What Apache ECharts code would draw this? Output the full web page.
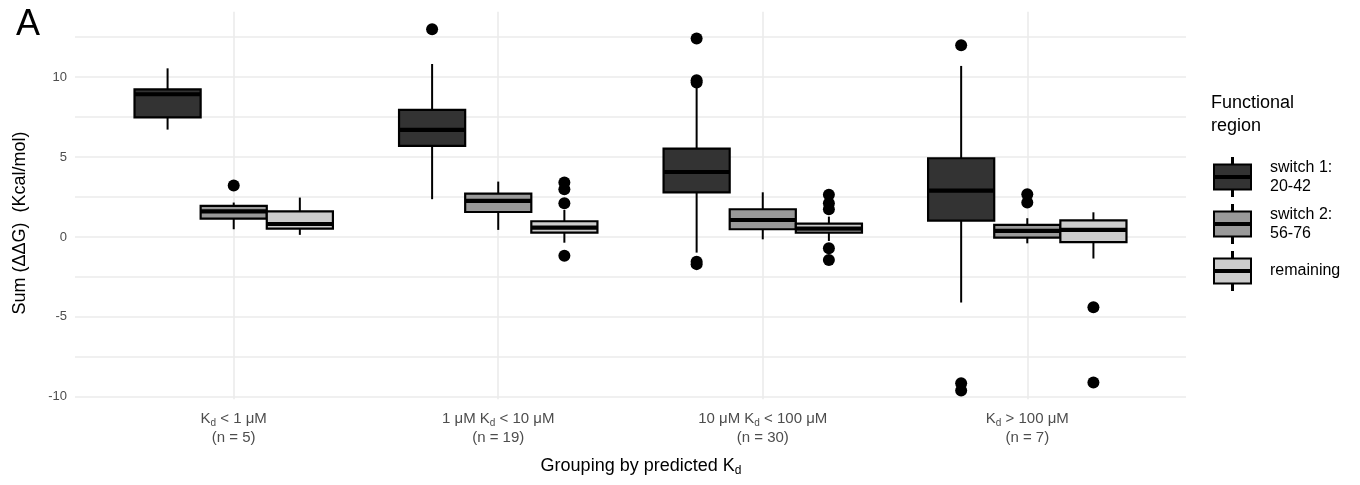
<!DOCTYPE html>
<html>
<head>
<meta charset="utf-8">
<script src="https://cdn.jsdelivr.net/npm/echarts@6/dist/echarts.min.js"></script>
<style>
html,body{margin:0;padding:0;background:#fff;}
#chart{width:1360px;height:485px;}
</style>
</head>
<body>
<div id="chart"></div>
<script>
// ---------- data ----------
const categories = ['K_d < 1 μM', '1 μM K_d < 10 μM', '10 μM K_d < 100 μM', 'K_d > 100 μM'];
const groupSizes = [5, 19, 30, 7];
const seriesNames = ['switch 1:\n20-42', 'switch 2:\n56-76', 'remaining'];
const yTickLabels = [-10, -5, 0, 5, 10];
const yGridValues = [-10, -7.5, -5, -2.5, 0, 2.5, 5, 7.5, 10, 12.5];

// box statistics per group: [min whisker, q1, median, q3, max whisker]
const switch1Boxes = [
  [6.71, 7.48, 8.92, 9.23, 10.54],
  [2.36, 5.69, 6.69, 7.94, 10.81],
  [-0.98, 2.79, 4.06, 5.52, 9.55],
  [-4.10, 1.02, 2.90, 4.92, 10.69]
];
const switch2Boxes = [
  [0.48, 1.14, 1.60, 1.94, 2.15],
  [0.44, 1.56, 2.25, 2.71, 3.46],
  [-0.15, 0.48, 1.06, 1.73, 2.79],
  [-0.40, -0.04, 0.38, 0.75, 1.17]
];
const remainingBoxes = [
  [0.13, 0.52, 0.81, 1.60, 2.46],
  [-0.36, 0.27, 0.58, 0.98, 1.69],
  [-0.25, 0.27, 0.52, 0.83, 1.27],
  [-1.35, -0.33, 0.44, 1.04, 1.54]
];
// outliers per group
const switch1Outliers = [[], [12.98], [12.4, 9.8, 9.65, -1.55, -1.7], [11.98, -9.15, -9.6]];
const switch2Outliers = [[3.21], [], [], [2.67, 2.15]];
const remainingOutliers = [[], [3.4, 2.98, 2.1, -1.17], [2.63, 2.1, 1.73, -0.71, -1.44], [-4.4, -9.1]];

// ---------- styling ----------
const fills = ['#333333', '#999999', '#cccccc'];
const DODGE = 0.25;   // offset between dodged boxes (axis units)
const BOX_W = 0.25;   // box width (axis units)
const FONT = "'Liberation Sans', Arial, Helvetica, sans-serif";

const allBoxes = [switch1Boxes, switch2Boxes, remainingBoxes];
const allOutliers = [switch1Outliers, switch2Outliers, remainingOutliers];

function renderBox(params, api) {
  const k = params.seriesIndex; // 0..2 are the box series
  const x = api.value(0) + (k - 1) * DODGE;
  const pMin = api.coord([x, api.value(1)]);
  const pQ1 = api.coord([x, api.value(2)]);
  const pMed = api.coord([x, api.value(3)]);
  const pQ3 = api.coord([x, api.value(4)]);
  const pMax = api.coord([x, api.value(5)]);
  const hw = api.size([BOX_W, 0])[0] / 2;
  return {
    type: 'group',
    children: [
      {type: 'line', shape: {x1: pMin[0], y1: pMin[1], x2: pQ1[0], y2: pQ1[1]}, style: {stroke: '#000', lineWidth: 2}},
      {type: 'line', shape: {x1: pQ3[0], y1: pQ3[1], x2: pMax[0], y2: pMax[1]}, style: {stroke: '#000', lineWidth: 2}},
      {type: 'rect', shape: {x: pQ3[0] - hw, y: pQ3[1], width: hw * 2, height: pQ1[1] - pQ3[1]},
        style: {fill: fills[k], stroke: '#000', lineWidth: 2.2}},
      {type: 'line', shape: {x1: pMed[0] - hw, y1: pMed[1], x2: pMed[0] + hw, y2: pMed[1]}, style: {stroke: '#000', lineWidth: 4.2}}
    ]
  };
}

const boxSeries = allBoxes.map((boxes, k) => ({
  name: seriesNames[k],
  type: 'custom',
  renderItem: renderBox,
  encode: {x: 0, y: [1, 2, 3, 4, 5]},
  data: boxes.map((b, gi) => [gi + 1].concat(b)),
  z: 2
}));

const outlierSeries = allOutliers.map((groups, k) => {
  const pts = [];
  groups.forEach((vals, gi) => vals.forEach(v => pts.push([gi + 1 + (k - 1) * DODGE, v])));
  return {
    name: 'outliers ' + k,
    type: 'scatter',
    data: pts,
    symbol: 'circle',
    symbolSize: 12,
    itemStyle: {color: '#000', opacity: 1},
    z: 3
  };
});

function richCat(str) {
  const parts = str.split('_d');
  let out = '';
  parts.forEach((p, i) => {
    if (p.length) out += '{t|' + p + '}';
    if (i < parts.length - 1) out += '{s|d}';
  });
  return out;
}

// legend key glyph: whisker, upper half box, lower half box, whisker
const KEY_PATH = 'path://M18,0L19,0L19,6.5L18,6.5Z M0,6.5L37,6.5L37,18L0,18Z M0,20L37,20L37,31.5L0,31.5Z M18,31.5L19,31.5L19,38L18,38Z';

const chart = echarts.init(document.getElementById('chart'), null, {renderer: 'canvas'});
chart.setOption({
  backgroundColor: '#ffffff',
  animation: false,
  textStyle: {fontFamily: FONT},
  title: [
    {text: 'A', left: 16, top: 7, padding: 0,
      textStyle: {fontSize: 36, fontWeight: 'normal', color: '#000', fontFamily: FONT}},
    {text: 'Functional\nregion', left: 1211, top: 92, padding: 0,
      textStyle: {fontSize: 18, lineHeight: 23, fontWeight: 'normal', color: '#000', fontFamily: FONT}}
  ],
  legend: {
    orient: 'vertical',
    left: 1213,
    top: 157,
    itemWidth: 37,
    itemHeight: 38,
    itemGap: 7,
    selectedMode: false,
    padding: 0,
    data: seriesNames.map((n, i) => ({
      name: n,
      icon: KEY_PATH,
      itemStyle: {color: fills[i], borderColor: '#000', borderWidth: 2}
    })),
    textStyle: {fontSize: 16, lineHeight: 19, color: '#000', fontFamily: FONT, padding: [0, 0, 0, 14]}
  },
  grid: {left: 75, right: 174, top: 11.7, bottom: 85.7, containLabel: false},
  xAxis: {
    type: 'value',
    min: 0.4,
    max: 4.6,
    axisLine: {show: false},
    axisTick: {show: false, customValues: [1, 2, 3, 4]},
    splitLine: {show: true, lineStyle: {color: '#ebebeb', width: 1.6}},
    axisLabel: {
      customValues: [1, 2, 3, 4],
      margin: 10,
      formatter: function (v) {
        const i = Math.round(v) - 1;
        return richCat(categories[i]) + '\n{t|(n = ' + groupSizes[i] + ')}';
      },
      rich: {
        t: {fontSize: 15, lineHeight: 19, color: '#4d4d4d', fontFamily: FONT},
        s: {fontSize: 10, lineHeight: 11, verticalAlign: 'bottom', color: '#4d4d4d', fontFamily: FONT}
      }
    }
  },
  yAxis: {
    type: 'value',
    min: -10.15,
    max: 14.08,
    axisLine: {show: false},
    axisTick: {show: false, customValues: yGridValues},
    splitLine: {show: true, lineStyle: {color: '#ebebeb', width: 1.6}},
    axisLabel: {
      customValues: yTickLabels,
      margin: 8,
      fontSize: 13,
      color: '#4d4d4d',
      fontFamily: FONT
    }
  },
  graphic: [
    {
      type: 'text',
      x: 20, y: 223,
      rotation: Math.PI / 2,
      style: {text: 'Sum (ΔΔG)  (Kcal/mol)', fontSize: 18, fontFamily: FONT, fill: '#000', align: 'center', verticalAlign: 'middle'}
    },
    {
      type: 'text',
      x: 641, y: 466,
      style: {
        text: '{t|Grouping by predicted K}{s|d}',
        align: 'center', verticalAlign: 'middle',
        rich: {
          t: {fontSize: 18, lineHeight: 22, fill: '#000', fontFamily: FONT},
          s: {fontSize: 12, lineHeight: 13, verticalAlign: 'bottom', fill: '#000', fontFamily: FONT}
        }
      }
    }
  ],
  series: boxSeries.concat(outlierSeries)
});
</script>
</body>
</html>
